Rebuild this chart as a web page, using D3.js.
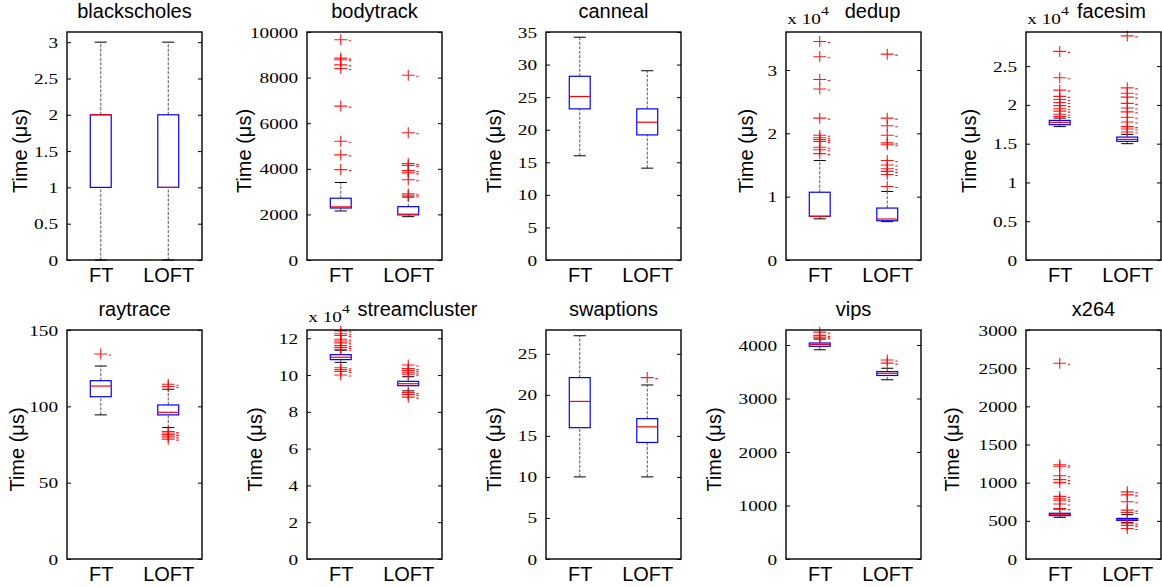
<!DOCTYPE html>
<html>
<head>
<meta charset="utf-8">
<script src="https://cdn.jsdelivr.net/npm/d3@7"></script>
<style>
  body { margin: 0; background: #fff; }
  svg { display: block; }
</style>
</head>
<body>
<svg id="chart" width="1162" height="587"></svg>
<script>
// Benchmarks (one panel each) and the two groups compared
const benchmarks = ['blackscholes', 'bodytrack', 'canneal', 'dedup', 'facesim',
                    'raytrace', 'streamcluster', 'swaptions', 'vips', 'x264'];
const groups = ['FT', 'LOFT'];

// Box stats per benchmark: [low whisker, q1, median, q3, high whisker]
// (dedup, facesim, streamcluster are in units of 10^4 us)
const ftStats = [
    [0, 1, 2, 2, 3],
    [2150, 2280, 2330, 2710, 3400],
    [16, 23.2, 25.1, 28.2, 34.2],
    [0.65, 0.69, 0.69, 1.07, 1.57],
    [1.72, 1.745, 1.775, 1.80, 1.83],
    [94.4, 106.3, 113.3, 116.8, 126.4],
    [10.69, 10.84, 10.97, 11.11, 11.35],
    [10, 16, 19.2, 22.1, 27.2],
    [3910, 3975, 4010, 4037, 4110],
    [546, 568, 580, 599, 655]
];
const loftStats = [
    [0, 1, 1, 2, 3],
    [1900, 1980, 2010, 2340, 2760],
    [14.1, 19.2, 21.15, 23.2, 29.05],
    [0.605, 0.62, 0.647, 0.82, 1.083],
    [1.50, 1.53, 1.555, 1.585, 1.62],
    [86.1, 94.4, 96.1, 100.9, 111.2],
    [9.14, 9.42, 9.53, 9.66, 9.91],
    [10, 14.2, 16.1, 17.1, 21.2],
    [3350, 3430, 3470, 3503, 3565],
    [480, 505, 515, 532, 580]
];

// Outliers ('+' markers)
const ftOutliers = [
    [],
    [9660, 8855, 8780, 8560, 8400, 6750, 5210, 4610, 3965],
    [],
    [3.45, 3.21, 2.85, 2.70, 2.24, 1.97, 1.93, 1.90, 1.87, 1.78, 1.74, 1.68],
    [2.69, 2.35, 2.19, 2.11, 2.07, 2.03, 1.99, 1.95, 1.92, 1.88, 1.85],
    [134.3],
    [12.4, 12.25, 12.15, 11.95, 11.85, 11.75, 11.6, 11.5, 11.4, 10.4, 10.3, 10.2, 10.0],
    [],
    [4240, 4180, 4150, 4130],
    [2564, 1235, 1215, 1090, 1040, 1000, 820, 790, 770, 720, 660]
];
const loftOutliers = [
    [],
    [8106, 5580, 4230, 4150, 3920, 3820, 3520, 2900, 2820],
    [],
    [3.25, 2.24, 2.12, 1.97, 1.85, 1.82, 1.57, 1.50, 1.44, 1.40, 1.35, 1.16],
    [2.89, 2.22, 2.15, 2.10, 2.02, 1.96, 1.91, 1.84, 1.78, 1.72, 1.69, 1.65],
    [114.5, 113, 83.5, 82.5, 81.5, 80.0, 78.5],
    [10.55, 10.35, 10.25, 10.15, 10.05, 9.05, 8.95, 8.8],
    [22.1],
    [3720, 3660],
    [880, 840, 750, 640, 610, 470, 440, 400]
];

// Y axis upper limits and tick labels
const yMax = [3.14, 10000, 35, 3.6, 2.94, 150, 12.45, 27.9, 4280, 3000];
const yTicks = [
    [0, 0.5, 1, 1.5, 2, 2.5, 3],
    [0, 2000, 4000, 6000, 8000, 10000],
    [0, 5, 10, 15, 20, 25, 30, 35],
    [0, 1, 2, 3],
    [0, 0.5, 1, 1.5, 2, 2.5],
    [0, 50, 100, 150],
    [0, 2, 4, 6, 8, 10, 12],
    [0, 5, 10, 15, 20, 25],
    [0, 1000, 2000, 3000, 4000],
    [0, 500, 1000, 1500, 2000, 2500, 3000]
];
const exponents = [0, 0, 0, 4, 4, 0, 4, 0, 0, 0];

// ---- layout ----
const colLeft = [67, 307, 546, 786, 1026];
const rowTop = [32, 330];
const rowBottom = [260, 559];
const plotW = 135;
const labelCenter = [47, 63, 52, 40, 57, 50, 52, 52, 72, 74];
const titleShift = [0, 0, 0, 19, 18, 0, 43, 0, 0, 0];
const SX = 1.3; // serif numbers look horizontally stretched in the reference
const serif = '"Liberation Serif", "Times New Roman", serif';
const sans = '"Liberation Sans", Arial, sans-serif';

const svg = d3.select('#chart');

benchmarks.forEach((name, i) => {
    const row = Math.floor(i / 5);
    const left = colLeft[i % 5];
    const top = rowTop[row];
    const h = rowBottom[row] - top;

    const g = svg.append('g').attr('transform', `translate(${left},${top})`);

    const x = d3.scaleLinear().domain([0.5, 2.5]).range([0, plotW]);
    const y = d3.scaleLinear().domain([0, yMax[i]]).range([h, 0]);

    // Boxes
    [ftStats[i], loftStats[i]].forEach((s, k) => {
        const pos = k + 1;
        const cx = x(pos);
        const [lo, q1, med, q3, hi] = s;
        const bg = g.append('g');

        // whiskers (dashed)
        [[q3, hi], [lo, q1]].forEach(([a, b]) => {
            bg.append('line')
                .attr('x1', cx).attr('x2', cx)
                .attr('y1', y(a)).attr('y2', y(b))
                .attr('stroke', '#444')
                .attr('stroke-width', 0.9)
                .attr('stroke-dasharray', '3,1.5');
        });
        // whisker caps
        [lo, hi].forEach(v => {
            bg.append('line')
                .attr('x1', x(pos - 0.09)).attr('x2', x(pos + 0.09))
                .attr('y1', y(v)).attr('y2', y(v))
                .attr('stroke', '#000')
                .attr('stroke-width', 1);
        });
        // box
        bg.append('rect')
            .attr('x', x(pos - 0.155))
            .attr('width', x(pos + 0.155) - x(pos - 0.155))
            .attr('y', y(q3))
            .attr('height', Math.max(y(q1) - y(q3), 1))
            .attr('fill', '#fff')
            .attr('stroke', '#0000ff')
            .attr('stroke-width', 1.2);
        // median
        bg.append('line')
            .attr('x1', x(pos - 0.155)).attr('x2', x(pos + 0.155))
            .attr('y1', y(med)).attr('y2', y(med))
            .attr('stroke', '#ff0000')
            .attr('stroke-width', 1.2);

        // outliers
        const outs = k === 0 ? ftOutliers[i] : loftOutliers[i];
        bg.selectAll('path.out')
            .data(outs)
            .enter()
            .append('path')
            .attr('class', 'out')
            .attr('d', v => {
                const py = y(v);
                return `M${cx - 6.5},${py}h13 M${cx},${py - 5.5}v11 M${cx + 8},${py + 1}h2.5`;
            })
            .attr('fill', 'none')
            .attr('stroke', '#ff0000')
            .attr('stroke-width', 1.1)
            .attr('stroke-opacity', 0.9);
    });

    // Left axis with serif (stretched) labels, inward ticks
    const axL = g.append('g')
        .call(d3.axisLeft(y).tickValues(yTicks[i]).tickSize(-4).tickPadding(9).tickFormat(d => d));
    axL.select('.domain').remove();
    axL.selectAll('.tick line').attr('stroke', '#000');
    axL.selectAll('.tick text')
        .attr('x', -9 / SX)
        .attr('dy', '0.34em')
        .attr('transform', `scale(${SX},1)`)
        .attr('font-family', serif)
        .attr('font-size', 14.8)
        .attr('fill', '#000');

    // Right axis: inward ticks only
    const axR = g.append('g')
        .attr('transform', `translate(${plotW},0)`)
        .call(d3.axisRight(y).tickValues(yTicks[i]).tickSize(-4).tickFormat(''));
    axR.select('.domain').remove();
    axR.selectAll('.tick line').attr('stroke', '#000');

    // Bottom category labels
    const axB = g.append('g')
        .attr('transform', `translate(0,${h})`)
        .call(d3.axisBottom(x).tickValues([1, 2]).tickSize(0).tickPadding(8)
            .tickFormat(d => groups[d - 1]));
    axB.select('.domain').remove();
    axB.selectAll('.tick text')
        .attr('font-family', sans)
        .attr('font-size', 20)
        .attr('fill', '#000');

    // Frame
    g.append('rect')
        .attr('x', 0).attr('y', 0)
        .attr('width', plotW).attr('height', h)
        .attr('fill', 'none')
        .attr('stroke', '#000')
        .attr('stroke-width', 1.4);

    // Title
    g.append('text')
        .attr('x', plotW / 2 + titleShift[i])
        .attr('y', -14)
        .attr('text-anchor', 'middle')
        .attr('font-family', sans)
        .attr('font-size', 20)
        .text(name);

    // Exponent label (x 10^4)
    if (exponents[i]) {
        const ex = g.append('text')
            .attr('x', 1).attr('y', -8)
            .attr('transform', `scale(${SX},1)`)
            .attr('font-family', serif)
            .attr('font-size', 14.8);
        ex.append('tspan').text('x 10');
        ex.append('tspan')
            .attr('dy', -9)
            .attr('font-size', 12)
            .text(exponents[i]);
    }

    // Y label
    g.append('text')
        .attr('transform', `translate(${-labelCenter[i]},${h / 2 + 5}) rotate(-90)`)
        .attr('text-anchor', 'middle')
        .attr('dominant-baseline', 'central')
        .attr('font-family', sans)
        .attr('font-size', 20)
        .text('Time (μs)');
});
</script>
</body>
</html>
